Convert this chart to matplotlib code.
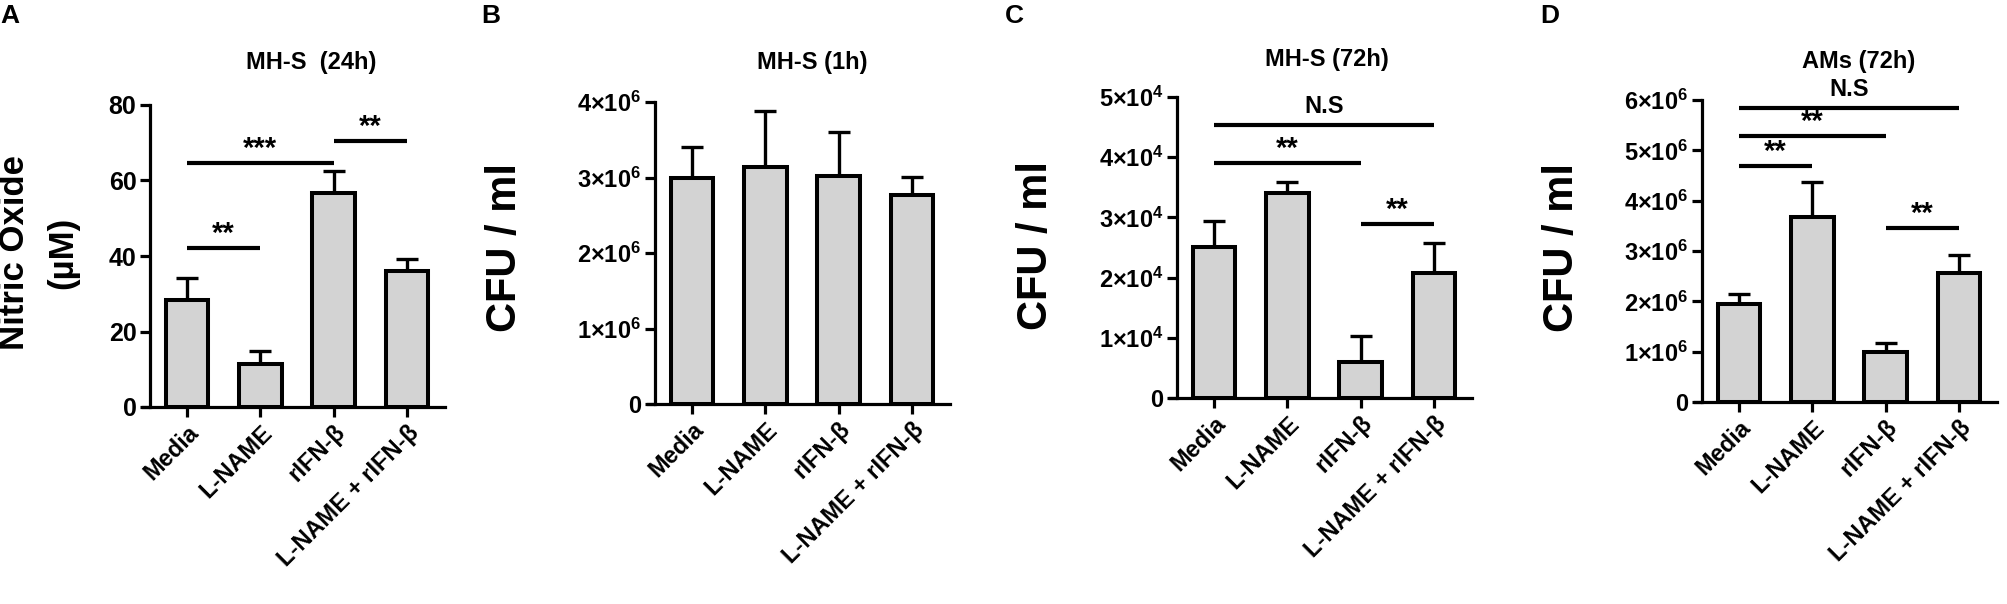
import matplotlib
matplotlib.use('Agg')
import matplotlib.pyplot as plt
import numpy as np

plt.rcParams['font.family'] = ['Liberation Sans', 'DejaVu Sans']
plt.rcParams['font.weight'] = 'bold'
plt.rcParams['mathtext.fontset'] = 'custom'
plt.rcParams['mathtext.rm'] = 'Liberation Sans:bold'
plt.rcParams['mathtext.bf'] = 'Liberation Sans:bold'
plt.rcParams['mathtext.it'] = 'Liberation Sans:bold'

groups = ['Media', 'L-NAME', 'rIFN-β', 'L-NAME + rIFN-β']

# panel A: nitric oxide, MH-S 24h
no_mean = [28.3, 11.4, 56.7, 36.0]
no_err = [5.9, 3.4, 5.8, 3.2]
# panel B: CFU/ml, MH-S 1h
b_mean = [3.00e6, 3.14e6, 3.02e6, 2.77e6]
b_err = [0.40e6, 0.74e6, 0.58e6, 0.24e6]
# panel C: CFU/ml, MH-S 72h
c_mean = [2.51e4, 3.41e4, 0.60e4, 2.08e4]
c_err = [0.43e4, 0.18e4, 0.43e4, 0.49e4]
# panel D: CFU/ml, AMs 72h
d_mean = [1.95e6, 3.68e6, 1.00e6, 2.56e6]
d_err = [0.20e6, 0.69e6, 0.17e6, 0.36e6]

# significance brackets: (from group, to group, height, label)
a_sig = [(0, 1, 42.1, '**'), (0, 2, 64.7, '***'), (2, 3, 70.5, '**')]
b_sig = []
c_sig = [(0, 3, 4.53e4, 'N.S'), (0, 2, 3.90e4, '**'), (2, 3, 2.89e4, '**')]
d_sig = [(0, 3, 5.84e6, 'N.S'), (0, 2, 5.29e6, '**'), (0, 1, 4.69e6, '**'),
         (2, 3, 3.46e6, '**')]

a_ticks = [0, 20, 40, 60, 80]
b_ticks = [0, 1e6, 2e6, 3e6, 4e6]
c_ticks = [0, 1e4, 2e4, 3e4, 4e4, 5e4]
d_ticks = [0, 1e6, 2e6, 3e6, 4e6, 5e6, 6e6]


def sci_label(v):
    if v == 0:
        return '0'
    k = int(np.floor(np.log10(v)))
    m = int(round(v / 10 ** k))
    return r'$\mathbf{%d{\times}10^{%d}}$' % (m, k)


W, H = 2008, 604
fig = plt.figure(figsize=(W / 100, H / 100), dpi=100)

# axes boxes in pixels: left, top, bottom
boxes = [(143, 105, 407), (648, 102, 404), (1170, 97, 398), (1695, 100, 402)]
panels = [
    ('A', 'MH-S  (24h)', no_mean, no_err, a_sig, a_ticks, False),
    ('B', 'MH-S (1h)', b_mean, b_err, b_sig, b_ticks, True),
    ('C', 'MH-S (72h)', c_mean, c_err, c_sig, c_ticks, True),
    ('D', 'AMs (72h)', d_mean, d_err, d_sig, d_ticks, True),
]
letter_x = [0, 481, 1005, 1540]
title_pos = [(0.556, 1.142), (0.543, 1.132), (0.52, 1.123), (0.541, 1.126)]
ylab_pos = [(-0.474, 0.517), (-0.474, 0.517), (-0.445, 0.508), (-0.439, 0.513)]

x = np.arange(len(groups))
for i, (letter, title, mean, err, sig, ticks, sci) in enumerate(panels):
    left, top, bottom = boxes[i]
    ax = fig.add_axes([left / W, 1 - bottom / H, 302 / W, (bottom - top) / H])
    ax.errorbar(x, mean, yerr=[np.zeros(len(err)), err], fmt='none',
                ecolor='black', elinewidth=2.4, capsize=8, capthick=2.4, zorder=2)
    ax.bar(x, mean, width=0.58, color='#d3d3d3', edgecolor='black',
           linewidth=2.9, zorder=3)
    ax.set_xlim(-0.6, 3.52)
    ax.set_ylim(0, ticks[-1])
    ax.spines['top'].set_visible(False)
    ax.spines['right'].set_visible(False)
    ax.spines['left'].set_position(('data', -0.5))
    for s in ['left', 'bottom']:
        ax.spines[s].set_linewidth(2.3)
    ax.tick_params(width=2.3, length=7, labelsize=18, pad=3)
    ax.set_yticks(ticks)
    if sci:
        ax.set_yticklabels([sci_label(t) for t in ticks], fontsize=17)
    else:
        ax.set_yticklabels([str(t) for t in ticks])
    ax.set_xticks(x)
    ax.set_xticklabels(groups, rotation=45, ha='right', rotation_mode='anchor',
                       fontsize=17)

    for g0, g1, h, lab in sig:
        ax.plot([g0, g1], [h, h], color='black', lw=3, solid_capstyle='butt',
                clip_on=False)
        if lab == 'N.S':
            ax.annotate(lab, ((g0 + g1) / 2, h), xytext=(0, 5),
                        textcoords='offset points', ha='center', va='bottom',
                        fontsize=17, annotation_clip=False)
        else:
            ax.annotate(lab, ((g0 + g1) / 2, h), xytext=(0, 0),
                        textcoords='offset points', ha='center', va='bottom',
                        fontsize=21, annotation_clip=False)

    tx, ty = title_pos[i]
    ax.text(tx, ty, title, transform=ax.transAxes, ha='center', va='center',
            fontsize=17)
    lx, ly = ylab_pos[i]
    if i == 0:
        ax.text(-0.427, 0.51, 'Nitric Oxide', transform=ax.transAxes,
                rotation=90, ha='center', va='center', fontsize=25)
        ax.text(-0.265, 0.51, '(µM)', transform=ax.transAxes,
                rotation=90, ha='center', va='center', fontsize=25)
    else:
        ax.text(lx, ly, 'CFU / ml', transform=ax.transAxes, rotation=90,
                ha='center', va='center', fontsize=30)
    fig.text(letter_x[i] / W, 1 - 4 / H, letter, ha='left', va='top',
             fontsize=19)

fig.savefig('out.png', dpi=100)
